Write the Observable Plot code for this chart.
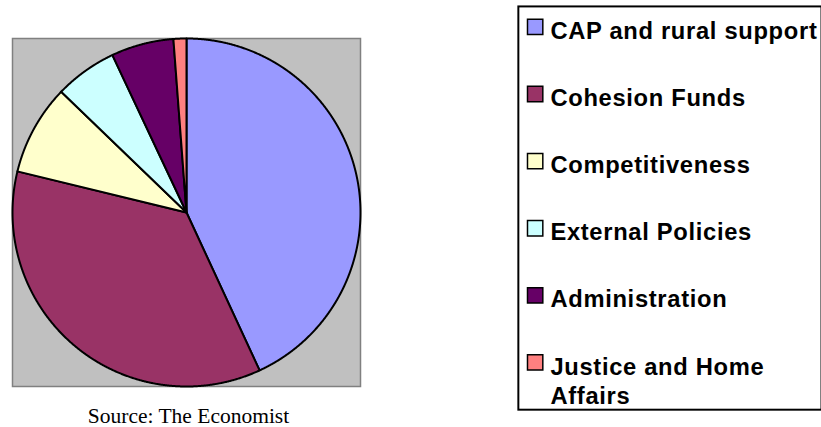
<!DOCTYPE html>
<html>
<head>
<meta charset="utf-8">
<script src="https://cdn.jsdelivr.net/npm/d3@7"></script>
<script src="https://cdn.jsdelivr.net/npm/@observablehq/plot@0.6"></script>
<style>
  html, body { margin: 0; padding: 0; background: #fff; overflow: hidden; }
  #wrap { position: relative; width: 821px; height: 427px; overflow: hidden; }
  #pie { position: absolute; left: 0; top: 0; }
  #legend { position: absolute; left: 480px; top: 0; }
</style>
</head>
<body>
<div id="wrap"><div id="pie"></div><div id="legend"></div></div>
<script>
const categories = ["CAP and rural support", "Cohesion Funds", "Competitiveness", "External Policies", "Administration", "Justice and Home Affairs"];
const legendLabels = ["CAP and rural support", "Cohesion Funds", "Competitiveness", "External Policies", "Administration", "Justice and Home\nAffairs"];
const shares = [43.1, 35.7, 8.4, 5.8, 5.8, 1.2];
const colors = ["#9999ff", "#993366", "#ffffcc", "#ccffff", "#660066", "#ff8080"];
const source = "Source: The Economist";

const table = categories.map((c, i) => ({cat: c, share: shares[i], label: legendLabels[i], idx: i}));

// Build slice outlines (unit circle, clockwise from 12 o'clock) from the data
const arcs = d3.pie().sort(null).value(d => d.share)(table);
const pts = arcs.flatMap(a => {
  const n = Math.max(2, Math.ceil((a.endAngle - a.startAngle) / 0.004));
  const out = [{cat: a.data.cat, x: 0, y: 0}];
  for (let i = 0; i <= n; i++) {
    const t = a.startAngle + (a.endAngle - a.startAngle) * i / n;
    out.push({cat: a.data.cat, x: Math.sin(t), y: Math.cos(t)});
  }
  out.push({cat: a.data.cat, x: 0, y: 0});
  return out;
});

const color = {domain: categories, range: colors};
const sans = "'Liberation Sans', Arial, Helvetica, sans-serif";
const serif = "'Liberation Serif', 'Times New Roman', serif";

const pie = Plot.plot({
  width: 480,
  height: 427,
  marginLeft: 12,
  marginRight: 120,
  marginTop: 38,
  marginBottom: 41,
  x: {domain: [-1, 1], axis: null},
  y: {domain: [-1, 1], axis: null},
  color,
  style: {background: "transparent", overflow: "visible"},
  marks: [
    Plot.frame({fill: "#c0c0c0", stroke: "#808080", strokeWidth: 1.5}),
    Plot.line(pts, {x: "x", y: "y", z: "cat", fill: "cat", stroke: "black", strokeWidth: 2, strokeLinejoin: "round"}),
    Plot.text([source], {frameAnchor: "bottom", lineAnchor: "bottom", dx: 2, dy: 36,
      fontFamily: serif, fontSize: 21.5, fill: "black"})
  ]
});
document.getElementById("pie").appendChild(pie);

const legend = Plot.plot({
  width: 345,
  height: 427,
  marginLeft: 38.3,
  marginRight: 0,
  marginTop: 6,
  marginBottom: 13,
  x: {axis: null},
  y: {type: "linear", domain: [0, categories.length - 1], range: [26.7, 366.2], axis: null},
  color,
  style: {background: "transparent", fontFamily: sans, letterSpacing: "0.7px"},
  marks: [
    Plot.frame({stroke: "black", strokeWidth: 2, fill: "white"}),
    Plot.dot(table, {y: "idx", frameAnchor: "left", dx: 17, symbol: "square", r: 8.75, fill: "cat", stroke: "black", strokeWidth: 1.5}),
    Plot.text(table, {y: "idx", text: "label", frameAnchor: "left", dx: 32.4, dy: -8.5, textAnchor: "start", lineAnchor: "top",
      lineHeight: 1.22, fontSize: 24, fontWeight: "bold", fontFamily: sans, fill: "black"})
  ]
});
document.getElementById("legend").appendChild(legend);
</script>
</body>
</html>
